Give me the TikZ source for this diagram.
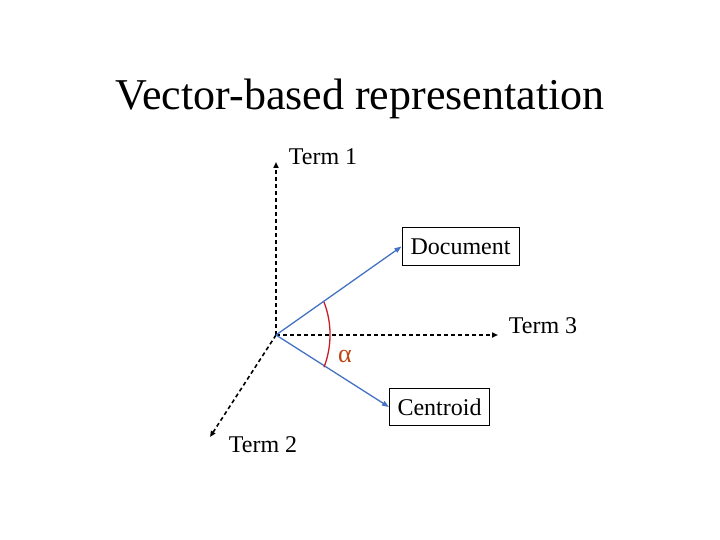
\documentclass[tikz,border=0pt]{standalone}
\usepackage{fontspec}
\setmainfont{Liberation Serif}
\usetikzlibrary{arrows.meta}
\definecolor{vecblue}{RGB}{68,114,196}
\definecolor{arcred}{RGB}{200,30,40}
\definecolor{alphacol}{RGB}{190,70,20}
\tikzset{
  axis/.style={black, line width=1.6pt, dash pattern=on 4pt off 3pt, -{Triangle[length=6pt,width=5pt]}},
  vec/.style={vecblue, line width=1.3pt, -{Triangle[length=7pt,width=5pt]}},
  lbl/.style={font=\fontsize{24}{28}\selectfont, inner sep=0pt},
  boxed/.style={draw, line width=1pt, font=\fontsize{24}{28}\selectfont, inner sep=0pt, minimum height=37pt}
}
\begin{document}
\begin{tikzpicture}[x=1pt,y=-1pt]
\useasboundingbox (0,0) rectangle (720,540);
\node[font=\fontsize{44}{50}\selectfont, anchor=base] (title) at (360,110) {Vector-based representation};
\coordinate (O) at (276,335);
\coordinate (t1) at (276,162);
\coordinate (t2) at (210,437);
\coordinate (t3) at (498,335);
\draw[axis] (O) -- (t1);
\draw[axis] (O) -- (t3);
\draw[axis] (O) -- (t2);
\node[lbl, anchor=base] (l1) at (323,165) {Term 1};
\node[lbl, anchor=base] (l3) at (543,333) {Term 3};
\node[lbl, anchor=base] (l2) at (263,452) {Term 2};
\node[boxed, minimum width=117pt] (doc) at (460.5,246.5) {Document};
\node[boxed, minimum width=100pt] (cen) at (439.5,407) {Centroid};
\draw[vec] (O) -- (doc.west);
\draw[vec] (O) -- (cen.west);
\coordinate (a1) at (324,302);
\draw[arcred, line width=1.3pt] (a1) arc[start angle=-21, end angle=21, radius=91];
\node[lbl, text=alphacol, anchor=base, font=\fontsize{26}{28}\selectfont] (alpha) at (345,362) {α};
\end{tikzpicture}
\end{document}
